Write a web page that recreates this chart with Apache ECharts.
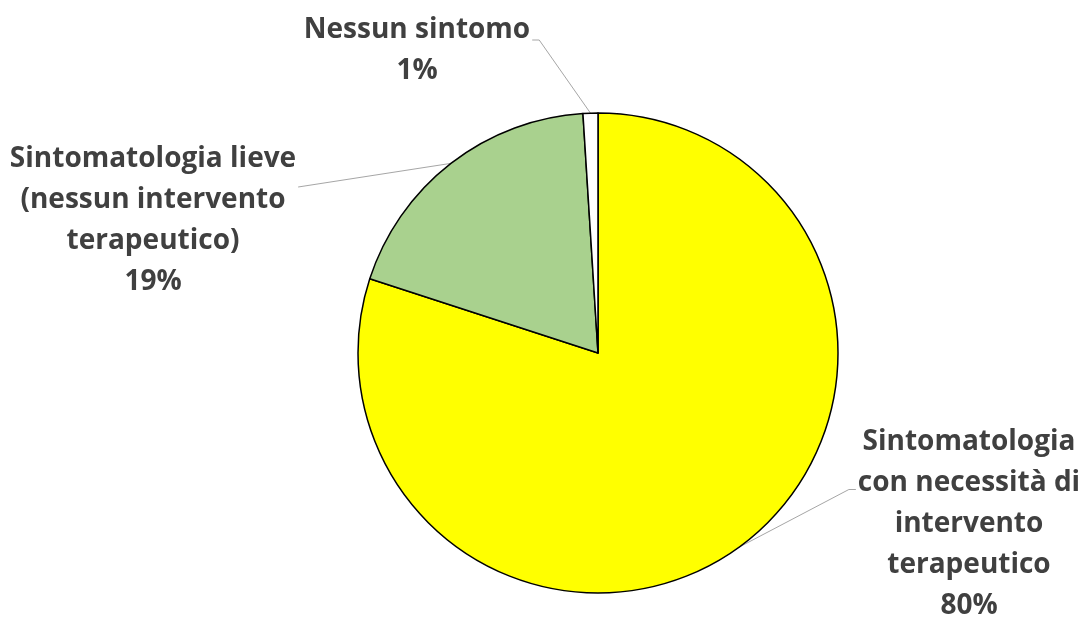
<!DOCTYPE html>
<html>
<head>
<meta charset="utf-8">
<script src="https://cdn.jsdelivr.net/npm/echarts@6/dist/echarts.min.js"></script>
<style>
  html, body { margin: 0; padding: 0; background: #ffffff; }
  #chart { width: 1084px; height: 619px; }
</style>
</head>
<body>
<div id="chart"></div>
<script>
// Slice names (line breaks as laid out in the labels) and percentages
const categories = [
  'Sintomatologia\ncon necessità di\nintervento\nterapeutico',
  'Sintomatologia lieve\n(nessun intervento\nterapeutico)',
  'Nessun sintomo'
];
const percentages = [80, 19, 1];
const sliceColors = ['#FFFF00', '#A9D18E', '#FFFFFF'];

// Label block centres (px) for each slice
const labelCentres = [[969, 524], [153, 221], [417, 51]];
// Where each leader line meets its label: side of the label block,
// vertical offset from the block top, and length of the short horizontal tail
const leaderAttach = [
  { side: 'left',  dy: 68, tail: 7 },
  { side: 'right', dy: 48, tail: 0 },
  { side: 'right', dy: 30, tail: 7 }
];

const FONT_SIZE = 28;
const LINE_H = 41;

const chart = echarts.init(document.getElementById('chart'), null, { renderer: 'canvas' });

chart.setOption({
  animation: false,
  backgroundColor: '#ffffff',
  series: [{
    type: 'pie',
    center: [598, 353],
    radius: 240,
    startAngle: 90,
    clockwise: true,
    data: categories.map((name, i) => ({
      name: name,
      value: percentages[i],
      itemStyle: { color: sliceColors[i] }
    })),
    itemStyle: { borderColor: '#000000', borderWidth: 1.5 },
    emphasis: { disabled: true },
    label: {
      show: true,
      formatter: '{b}\n{c}%',
      fontFamily: 'Open Sans',
      fontWeight: 'bold',
      fontSize: FONT_SIZE,
      lineHeight: LINE_H,
      color: '#404040',
      align: 'center'
    },
    labelLine: {
      show: true,
      length: 10,
      length2: 10,
      lineStyle: { color: '#A6A6A6', width: 1 }
    },
    labelLayout: function (params) {
      const i = params.dataIndex;
      const c = labelCentres[i];
      const w = params.labelRect.width;
      const h = params.labelRect.height;
      const x0 = c[0] - w / 2;
      const y0 = c[1] - h / 2;
      const a = leaderAttach[i];
      const ex = a.side === 'left' ? x0 - 2 : x0 + w + 2;
      const ey = y0 + a.dy;
      const tx = a.side === 'left' ? ex - a.tail : ex + a.tail;
      const start = params.labelLinePoints ? params.labelLinePoints[0] : [tx, ey];
      return {
        x: c[0],
        y: c[1],
        align: 'center',
        verticalAlign: 'middle',
        labelLinePoints: [start, [tx, ey], [ex, ey]]
      };
    }
  }]
});
</script>
</body>
</html>
